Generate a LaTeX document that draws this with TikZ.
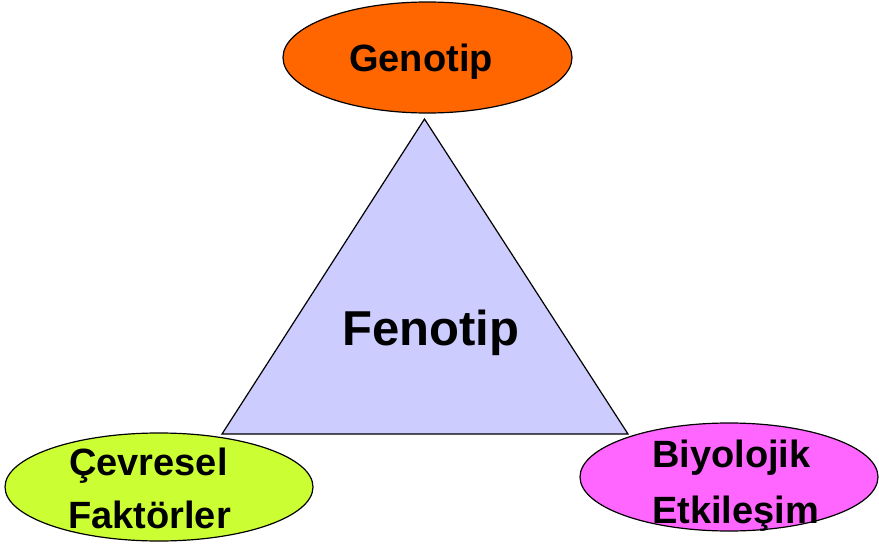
\documentclass[tikz,border=0pt]{standalone}
\usepackage{fontspec}
\setmainfont{Liberation Sans}
\usetikzlibrary{shapes.geometric}
\definecolor{genoorange}{HTML}{FF6600}
\definecolor{fenoblue}{HTML}{CCCCFF}
\definecolor{cevregreen}{HTML}{CCFF33}
\definecolor{biyopink}{HTML}{FF66FF}
\tikzset{
  oval/.style={ellipse, draw=black, line width=1.2pt, inner sep=0pt},
  lbl/.style={font=\fontsize{38}{46}\selectfont\bfseries, text=black, inner sep=0pt, anchor=base west},
}
\begin{document}
\begin{tikzpicture}[x=1pt, y=-1pt]
  \useasboundingbox (0,0) rectangle (879,546);
  % central triangle
  \coordinate (apex) at (424.5,119);
  \coordinate (bl) at (222,434);
  \coordinate (br) at (628,434);
  \draw[fill=fenoblue, line width=1.2pt, line join=miter] (apex) -- (bl) -- (br) -- cycle;
  \node[font=\fontsize{49}{58}\selectfont\bfseries, inner sep=0pt, anchor=base] (feno) at (431,345) {Fenotip};
  % genotype
  \node[oval, fill=genoorange, minimum width=289pt, minimum height=111pt] (geno) at (427.5,57.5) {};
  \node[lbl, anchor=base] (genotxt) at (421,71) {Genotip};
  % environmental factors
  \node[oval, fill=cevregreen, minimum width=308pt, minimum height=108pt] (cevre) at (159,487) {};
  \node[lbl] (cevre1) at (69,475) {Çevresel};
  \node[lbl] (cevre2) at (68,528) {Faktörler};
  % biological interaction
  \node[oval, fill=biyopink, minimum width=298pt, minimum height=108pt] (biyo) at (729,477) {};
  \node[lbl] (biyo1) at (652,467) {Biyolojik};
  \node[lbl] (biyo2) at (652,523) {Etkileşim};
\end{tikzpicture}
\end{document}
